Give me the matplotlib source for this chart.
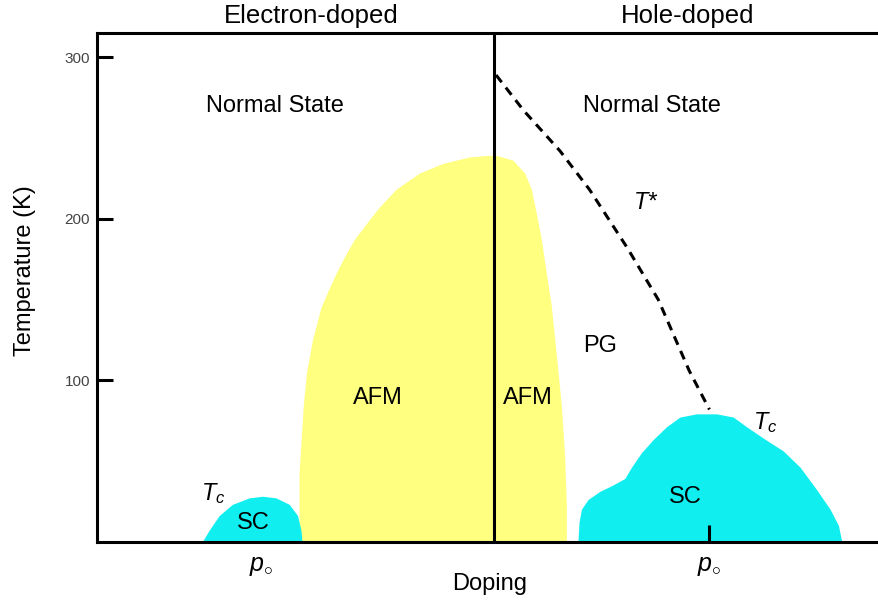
import matplotlib
matplotlib.use("Agg")
import matplotlib.pyplot as plt
import matplotlib.transforms as mtransforms

plt.rcParams['font.family'] = ['Liberation Sans', 'DejaVu Sans']
plt.rcParams['mathtext.fontset'] = 'custom'
plt.rcParams['mathtext.rm'] = 'Liberation Sans'
plt.rcParams['mathtext.it'] = 'Liberation Sans:italic'

# doping: negative = electron-doped, positive = hole-doped; temperature in K
afm_e_x = [-0.1445, -0.1445, -0.1414, -0.1389, -0.1345, -0.1282, -0.1225, -0.1170, -0.1109,
           -0.1034, -0.0943, -0.0848, -0.0724, -0.0551, -0.0377, -0.0179, -0.0030, 0.0, 0.0]
afm_e_t = [0, 43, 84, 105, 125, 145, 156, 166, 176, 187, 197, 207, 218, 228, 234, 238, 239, 239, 0]

afm_h_x = [0.0, 0.0, 0.0020, 0.0144, 0.0231, 0.0281, 0.0318, 0.0355, 0.0392, 0.0429,
           0.0467, 0.0504, 0.0528, 0.0541, 0.0541]
afm_h_t = [0, 239, 239, 236, 228, 218, 203, 187, 166, 146, 115, 84, 53, 22, 0]

sc_e_x = [-0.2163, -0.2113, -0.2039, -0.1940, -0.1815, -0.1716, -0.1617, -0.1518, -0.1456,
          -0.1431, -0.1423]
sc_e_t = [0, 7, 16, 23, 27, 28, 27, 23, 16, 7, 0]

sc_h_x = [0.0627, 0.0635, 0.0653, 0.0702, 0.0789, 0.0888, 0.0975, 0.1025, 0.1099, 0.1185,
          0.1285, 0.1384, 0.1508, 0.1657, 0.1781, 0.1880, 0.2004, 0.2153, 0.2277, 0.2401,
          0.2500, 0.2562, 0.2587]
sc_h_t = [0, 12, 20, 26, 31, 35, 39, 46, 55, 63, 71, 77, 79, 79, 77, 71, 64, 56, 46, 32,
          20, 10, 0]

tstar_x = [0.0015, 0.022, 0.049, 0.071, 0.099, 0.122, 0.145, 0.160]
tstar_t = [289, 267, 242, 218, 182, 150, 106, 82]

p0_electron = -0.173
p0_hole = 0.160
y_ticks = [100, 200, 300]

fig = plt.figure(figsize=(8.79, 6.02), dpi=100)
ax = fig.add_axes([97 / 879, 60 / 602, 782 / 879, 509 / 602])
ax.set_xlim(-0.295, 0.286)
ax.set_ylim(0, 315)

yellow = '#FFFF80'
cyan = '#10EEF0'
ax.fill(afm_e_x, afm_e_t, color=yellow, lw=0, zorder=1)
ax.fill(afm_h_x, afm_h_t, color=yellow, lw=0, zorder=1)
ax.fill(sc_e_x, sc_e_t, color=cyan, lw=0, zorder=1)
ax.fill(sc_h_x, sc_h_t, color=cyan, lw=0, zorder=1)

ax.plot(tstar_x, tstar_t, color='black', lw=2.2, dashes=(3, 2.2), zorder=3)
ax.axvline(0, color='black', lw=2.2, zorder=3)

for side in ['left', 'top', 'bottom']:
    ax.spines[side].set_linewidth(2.2)
ax.spines['right'].set_visible(False)

ax.set_yticks(y_ticks)
ax.set_yticklabels([str(v) for v in y_ticks])
ax.tick_params(axis='y', direction='in', length=11.5, width=2.2, pad=5,
               labelsize=11, labelcolor='#444444')
ax.set_xticks([p0_electron, p0_hole])
ax.set_xticklabels([r'$p_{\circ}$', r'$p_{\circ}$'])
ax.tick_params(axis='x', direction='in', length=12, width=2.2, pad=9, labelsize=18)
ax.xaxis.get_major_ticks()[0].tick1line.set_visible(False)

ax.set_xlabel('Doping', fontsize=17)
ax.xaxis.set_label_coords(0.5026, -0.06)
ax.set_ylabel('Temperature (K)', fontsize=17, va='center')
ax.yaxis.set_label_coords(-0.092, 0.534)

top = mtransforms.blended_transform_factory(ax.transData, ax.transAxes)
ax.text(-0.136, 1.0196, 'Electron-doped', transform=top, fontsize=18.5,
        ha='center', va='baseline')
ax.text(0.144, 1.0196, 'Hole-doped', transform=top, fontsize=18.5,
        ha='center', va='baseline')

label_kw = dict(fontsize=17, ha='center', va='center', zorder=4)
ax.text(-0.163, 270, 'Normal State', **label_kw)
ax.text(0.1176, 270, 'Normal State', **label_kw)
ax.text(-0.0863, 89, 'AFM', **label_kw)
ax.text(0.0253, 89, 'AFM', **label_kw)
ax.text(0.0789, 121, 'PG', **label_kw)
ax.text(0.1124, 210, 'T*', style='italic', **label_kw)
ax.text(-0.179, 12, 'SC', **label_kw)
ax.text(0.142, 28, 'SC', **label_kw)
ax.text(-0.209, 30, r'$T_c$', **label_kw)
ax.text(0.2016, 74, r'$T_c$', **label_kw)

fig.savefig('out.png', dpi=100)
